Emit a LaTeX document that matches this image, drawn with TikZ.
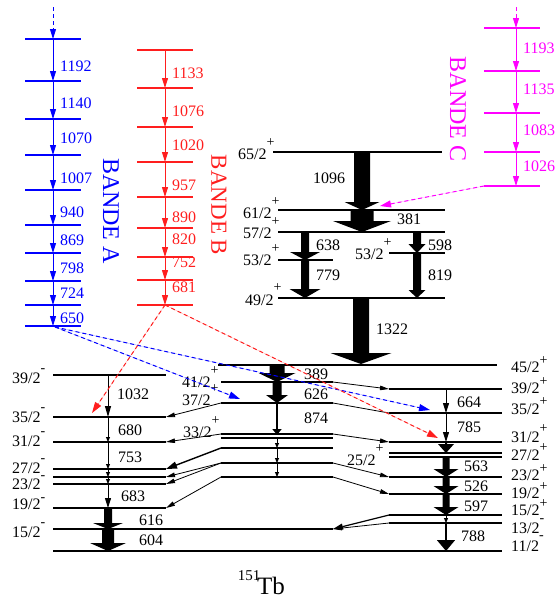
\documentclass[tikz,border=0pt]{standalone}
\usepackage{fontspec}
\setmainfont{Liberation Serif}
\usetikzlibrary{arrows.meta}
\definecolor{bandA}{RGB}{0,0,255}
\definecolor{bandB}{RGB}{255,30,30}
\definecolor{bandC}{RGB}{255,0,255}
\newcommand{\upar}[2][13pt]{\raisebox{#1}{\fontsize{14}{14}\selectfont #2}}
\newcommand{\fatarr}[6]{\fill (#1-#4,#2) -- (#1+#4,#2) -- (#1+#4,#3-#6) -- (#1+#5,#3-#6) -- (#1,#3) -- (#1-#5,#3-#6) -- (#1-#4,#3-#6) -- cycle;}
\begin{document}
\begin{tikzpicture}[x=1pt,y=-1pt,
  lev/.style={line width=1.2pt},
  num/.style={font=\fontsize{16}{16}\selectfont, inner sep=0pt, anchor=base west},
  spin/.style={font=\fontsize{16}{16}\selectfont, inner sep=0pt, anchor=base west},
  ttl/.style={inner sep=0pt, rotate=-90},
  thinarr/.style={line width=1pt,-{Triangle[length=10pt,width=6pt]}},
  smallarr/.style={line width=1pt,-{Triangle[length=5pt,width=4pt]}},
  link/.style={line width=0.8pt,-{Triangle[length=9pt,width=4.5pt]}},
  dsh/.style={line width=1pt, dash pattern=on 4pt off 3pt, -{Triangle[length=11pt,width=7pt]}}]
\useasboundingbox (0,0) rectangle (557,603);

% ---------------- BANDE A ----------------
\foreach \y in {39,81,119,155,190,225,253,281,305,326}
  \draw[lev,bandA] (25,\y) -- (81,\y);
\draw[bandA,line width=1pt,dash pattern=on 4pt off 3pt,-{Triangle[length=10pt,width=6pt]}] (53,7) -- (53,39);
\foreach \a/\b in {39/81,81/119,119/155,155/190,190/225,225/253,253/281,281/305,305/326}
  \draw[thinarr,bandA] (53,\a) -- (53,\b);
\foreach \t/\y in {1192/66,1140/103,1070/138,1007/178,940/212,869/240,798/268,724/293,650/318}
  \node[num,text=bandA] (a\t) at (60,\y+5.3) {\t};
\node[ttl,text=bandA,font=\fontsize{24}{24}\selectfont] (bandeA) at (111,211) {BANDE A};

% ---------------- BANDE B ----------------
\foreach \y in {50,88,127,162,197,228,257,280,305}
  \draw[lev,bandB] (137,\y) -- (193,\y);
\foreach \a/\b in {50/88,88/127,127/162,162/197,197/228,228/257,257/280,280/305}
  \draw[thinarr,bandB] (165,\a) -- (165,\b);
\foreach \t/\y in {1133/73,1076/111,1020/145,957/185,890/217,820/239,752/262,681/287}
  \node[num,text=bandB] (b\t) at (172,\y+5.3) {\t};
\node[ttl,text=bandB,font=\fontsize{23}{23}\selectfont] (bandeB) at (219,205) {BANDE B};

% ---------------- BANDE C ----------------
\foreach \y in {28,71,113,152,186}
  \draw[lev,bandC] (484,\y) -- (540,\y);
\draw[bandC,line width=1pt,dash pattern=on 4pt off 3pt,-{Triangle[length=10pt,width=6pt]}] (516,7) -- (516,28);
\foreach \a/\b in {28/71,71/113,113/152,152/186}
  \draw[thinarr,bandC] (516,\a) -- (516,\b);
\foreach \t/\y in {1193/48,1135/89,1083/130,1026/166}
  \node[num,text=bandC] (c\t) at (523,\y+5.3) {\t};
\node[ttl,text=bandC,font=\fontsize{24}{24}\selectfont] (bandeC) at (458,109) {BANDE C};

% ---------------- high-spin part ----------------
\draw[lev] (273,152) -- (442,152);
\draw[lev] (278,210) -- (445,210);
\draw[lev] (278,232) -- (445,232);
\draw[lev] (278,260) -- (333,260);
\draw[lev] (389,253) -- (445,253);
\draw[lev] (278,298) -- (445,298);
\node[spin] (l65) at (238,159) {65/2\upar{+}};
\node[spin] (l61) at (243,218) {61/2\upar{+}};
\node[spin] (l57) at (243,238) {57/2\upar{+}};
\node[spin] (l53a) at (243,265) {53/2\upar{+}};
\node[spin] (l53b) at (355,259) {53/2\upar{+}};
\node[spin] (l49) at (245,305) {49/2\upar[14pt]{+}};

\fatarr{362}{152}{210}{8}{17.5}{8}
\fatarr{362}{210}{232}{11.5}{29}{11}
\fatarr{305}{232}{260}{4}{15}{8}
\fatarr{305}{260}{298}{4}{15.5}{9}
\fatarr{417}{232}{253}{4}{8.5}{9}
\fatarr{417}{253}{298}{4}{8.5}{8}
\fatarr{361}{298}{364}{8}{30.5}{11}
\node[num] (e1096) at (313,183.3) {1096};
\node[num] (e381) at (397,224.3) {381};
\node[num] (e638) at (316,250.3) {638};
\node[num] (e779) at (316,280.3) {779};
\node[num] (e598) at (428,250.3) {598};
\node[num] (e819) at (428,280.3) {819};
\node[num] (e1322) at (376,334.3) {1322};

% ---------------- low part: levels ----------------
\draw[lev] (218,365) -- (497,365);
% left column
\foreach \y in {375,417,442,469,477,484,508}
  \draw[lev] (53,\y) -- (166,\y);
\draw[lev] (53,529) -- (333,529);
\draw[lev] (53,551) -- (502,551);
% middle column
\foreach \y in {382,403,434,438,448,463,477}
  \draw[lev] (221,\y) -- (333,\y);
% right column
\foreach \y in {389,413,442,453,457,477,494,515,523}
  \draw[lev] (389,\y) -- (502,\y);

% spin labels
\node[spin] (m39) at (12,383) {39/2\upar[11pt]{-}};
\node[spin] (m35) at (12,422) {35/2\upar[11pt]{-}};
\node[spin] (m31) at (12,446) {31/2\upar[11pt]{-}};
\node[spin] (m27) at (12,473) {27/2\upar[11pt]{-}};
\node[spin] (m23) at (12,489) {23/2\upar[10pt]{-}};
\node[spin] (m19) at (12,509) {19/2\upar[8pt]{-}};
\node[spin] (m15) at (12,537) {15/2\upar[11pt]{-}};

\node[spin] (p41) at (182,387) {41/2\upar{+}};
\node[spin] (p37) at (182,405) {37/2\upar{+}};
\node[spin] (p33) at (183,437) {33/2\upar{+}};
\node[spin] (p25) at (347,465) {25/2\upar{+}};

\node[spin] (r45) at (511,372) {45/2\upar[8pt]{+}};
\node[spin] (r39) at (511,393) {39/2\upar[8pt]{+}};
\node[spin] (r35) at (511,414) {35/2\upar[9pt]{+}};
\node[spin] (r31) at (511,442) {31/2\upar[10pt]{+}};
\node[spin] (r27) at (511,460) {27/2\upar[9pt]{+}};
\node[spin] (r23) at (511,480) {23/2\upar[8pt]{+}};
\node[spin] (r19) at (511,498) {19/2\upar[8pt]{+}};
\node[spin] (r15) at (511,515) {15/2\upar[8pt]{+}};
\node[spin] (r13) at (511,533) {13/2\upar[11pt]{-}};
\node[spin] (r11) at (511,551) {11/2\upar[12pt]{-}};

% left chain
\draw[line width=1pt,-{Triangle[length=11pt,width=6pt]}] (108,375) -- (108,417);
\draw[smallarr] (108,417) -- (108,442);
\draw[smallarr] (108,442) -- (108,469);
\draw[smallarr] (108,469) -- (108,477);
\draw[smallarr] (108,477) -- (108,484);
\draw[line width=1pt,-{Triangle[length=10pt,width=6pt]}] (108,484) -- (108,508);
\fatarr{108}{508}{529}{4}{15}{6}
\fatarr{108}{529}{551}{6}{18}{8}
\node[num] (e1032) at (117,399.3) {1032};
\node[num] (e680) at (118,435.3) {680};
\node[num] (e753) at (118,462.3) {753};
\node[num] (e683) at (121,501.3) {683};
\node[num] (e616) at (139,525.3) {616};
\node[num] (e604) at (139,545.3) {604};

% middle chain
\fatarr{277}{365}{382}{7.5}{18.5}{9}
\fatarr{277}{382}{403}{4.5}{11}{8}
\draw[line width=1.5pt,-{Triangle[length=6pt,width=9pt]}] (277,403) -- (277,435);
\draw[smallarr] (277,438) -- (277,448);
\draw[smallarr] (277,448) -- (277,463);
\draw[smallarr] (277,463) -- (277,477);
\node[num] (e389) at (304,379.3) {389};
\node[num] (e626) at (304,399.3) {626};
\node[num] (e874) at (304,423.3) {874};

% right chain
\draw[line width=1pt,-{Triangle[length=10pt,width=6pt]}] (446,389) -- (446,413);
\draw[line width=1pt,-{Triangle[length=10pt,width=6pt]}] (446,413) -- (446,442);
\fatarr{446}{442}{453}{1}{8}{9}
\fatarr{446}{457}{477}{3.5}{12.5}{8}
\fatarr{446}{477}{494}{3.5}{12.5}{8}
\fatarr{446}{494}{515}{3.5}{12.5}{8}
\draw[smallarr] (446,515) -- (446,523);
\draw[line width=1.5pt,-{Triangle[length=11pt,width=18pt]}] (446,523) -- (446,551);
\node[num] (e664) at (457,407.3) {664};
\node[num] (e785) at (457,432.3) {785};
\node[num] (e563) at (464,471.3) {563};
\node[num] (e526) at (464,491.3) {526};
\node[num] (e597) at (464,511.3) {597};
\node[num] (e788) at (461,541.3) {788};

% links middle -> left
\draw[link] (221,403) -- (166,417);
\draw[link] (221,434) -- (166,442);
\draw[line width=1.4pt,-{Triangle[length=11pt,width=7pt]}] (221,448) -- (166,469);
\draw[link] (221,463) -- (166,477);
\draw[link] (221,463) -- (166,484);
\draw[link] (221,477) -- (166,508);
% links middle -> right
\draw[link] (333,382) -- (389,389);
\draw[line width=0.8pt] (333,403) -- (389,413);
\draw[link] (333,434) -- (389,442);
\draw[link] (333,463) -- (389,477);
\draw[link] (333,477) -- (389,494);
% right -> left
\draw[line width=1.2pt,-{Triangle[length=10pt,width=6pt]}] (389,515) -- (333,529);
\draw[link] (389,523) -- (333,529);

% dashed links
\draw[dsh,draw=bandA,fill=bandA] (55,327) -- (240,399);
\draw[dsh,draw=bandA,fill=bandA] (55,327) -- (430,410);
\draw[dsh,draw=bandB,fill=bandB] (165,305) -- (92,413);
\draw[dsh,draw=bandB,fill=bandB] (165,305) -- (438,438);
\draw[dsh,draw=bandC,fill=bandC] (484,186) -- (380,206);

% nucleus
\node[inner sep=0pt,font=\fontsize{25}{25}\selectfont] (tb) at (271,586) {Tb};
\node[inner sep=0pt,font=\fontsize{15}{15}\selectfont] (mass) at (249,576) {151};
\end{tikzpicture}
\end{document}
